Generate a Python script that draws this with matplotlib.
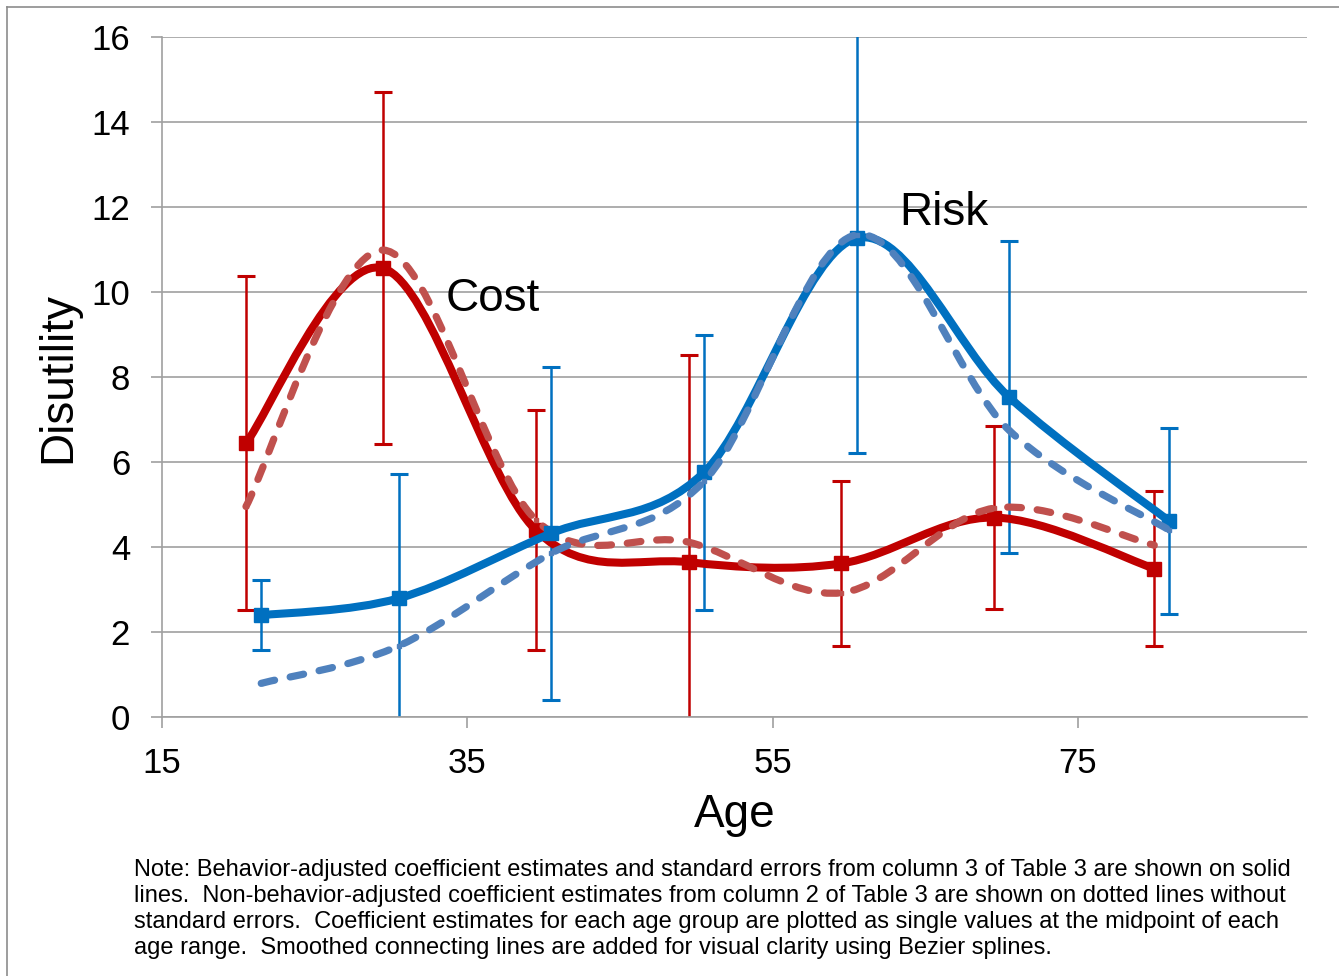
import numpy as np
from matplotlib import pyplot as plt
from matplotlib.path import Path
from matplotlib.patches import PathPatch
from matplotlib.lines import Line2D

# age group midpoints
cost_age = [20.5, 29.5, 39.5, 49.5, 59.5, 69.5, 80]
risk_age = [21.5, 30.5, 40.5, 50.5, 60.5, 70.5, 81]

# behavior-adjusted estimates (solid) and standard errors
cost_adj = [6.45, 10.56, 4.40, 3.65, 3.62, 4.70, 3.50]
cost_se = [3.92, 4.14, 2.82, 4.87, 1.93, 2.15, 1.82]
risk_adj = [2.40, 2.80, 4.33, 5.76, 11.27, 7.53, 4.61]
risk_se = [0.82, 2.92, 3.92, 3.24, 5.06, 3.67, 2.19]

# non-behavior-adjusted estimates (dashed)
cost_raw = [4.96, 10.99, 4.64, 4.12, 2.93, 4.92, 4.05]
risk_raw = [0.80, 1.68, 3.86, 5.55, 11.35, 6.75, 4.40]

x_ticks = [15, 35, 55, 75]
y_ticks = [0, 2, 4, 6, 8, 10, 12, 14, 16]

note = ("Note: Behavior-adjusted coefficient estimates and standard errors from column 3 of Table 3 are shown on solid\n"
        "lines.  Non-behavior-adjusted coefficient estimates from column 2 of Table 3 are shown on dotted lines without\n"
        "standard errors.  Coefficient estimates for each age group are plotted as single values at the midpoint of each\n"
        "age range.  Smoothed connecting lines are added for visual clarity using Bezier splines.")

RED = "#C00000"
RED_D = "#C0504D"
BLUE = "#0070C0"
BLUE_D = "#4F81BD"
GRID = "#A0A0A0"

plt.rcParams['font.family'] = ['Liberation Sans', 'DejaVu Sans']


def bezier_path(xs, ys):
    # cubic bezier through the points, tangents like a Catmull-Rom spline
    pts = np.column_stack([xs, ys]).astype(float)
    n = len(pts)
    verts = [pts[0]]
    codes = [Path.MOVETO]
    for i in range(n - 1):
        p0 = pts[i - 1] if i > 0 else pts[i]
        p1 = pts[i]
        p2 = pts[i + 1]
        p3 = pts[i + 2] if i + 2 < n else pts[i + 1]
        c1 = p1 + (p2 - p0) / 6.0
        c2 = p2 - (p3 - p1) / 6.0
        verts += [c1, c2, p2]
        codes += [Path.CURVE4] * 3
    return Path(verts, codes)


fig = plt.figure(figsize=(13.39, 9.76), dpi=100)
ax = fig.add_axes([0.121, 0.265, 0.855, 0.697])

ax.set_xlim(15, 90)
ax.set_ylim(0, 16)
ax.set_xticks(x_ticks)
ax.set_yticks(y_ticks)
ax.grid(axis='y', color=GRID, lw=1.2)
ax.set_axisbelow(True)
for s in ['top', 'right']:
    ax.spines[s].set_visible(False)
for s in ['left', 'bottom']:
    ax.spines[s].set_color(GRID)
    ax.spines[s].set_linewidth(1.2)
ax.tick_params(axis='both', colors=GRID, labelcolor='black', labelsize=25,
               length=8, width=1.2, direction='out')
ax.tick_params(axis='y', pad=15)
ax.tick_params(axis='x', pad=13)

# error bars
ax.errorbar(cost_age, cost_adj, yerr=cost_se, fmt='none', ecolor=RED,
            elinewidth=1.8, capsize=6.5, capthick=2.2, zorder=2)
ax.errorbar(risk_age, risk_adj, yerr=risk_se, fmt='none', ecolor=BLUE,
            elinewidth=1.8, capsize=6.5, capthick=2.2, zorder=2)

# smoothed lines
for xs, ys, col, ls, lw, ms, z in [
        (cost_age, cost_adj, RED, '-', 5.8, 10.5, 3),
        (cost_age, cost_raw, RED_D, (0, (1.9, 2.2)), 5.2, 3.5, 4),
        (risk_age, risk_adj, BLUE, '-', 5.8, 10.5, 5),
        (risk_age, risk_raw, BLUE_D, (0, (1.9, 2.2)), 5.2, 3.5, 6)]:
    patch = PathPatch(bezier_path(xs, ys), fill=False, edgecolor=col, lw=lw,
                      linestyle=ls, capstyle='round', joinstyle='round', zorder=z)
    ax.add_patch(patch)
    ax.plot(xs, ys, linestyle='none', marker='s', ms=ms, color=col, zorder=z)

ax.text(33.6, 9.55, "Cost", fontsize=33, va='baseline', ha='left')
ax.text(63.3, 11.58, "Risk", fontsize=33, va='baseline', ha='left')

ax.set_xlabel("Age", fontsize=33, labelpad=10)
ax.set_ylabel("Disutility", fontsize=33, labelpad=8)

fig.text(0.100, 0.069, note, fontsize=17, ha='left', va='center', linespacing=1.24)

# outer border of the original chart box
fig.add_artist(Line2D([0.0053, 0.0053], [0, 0.993], transform=fig.transFigure,
                      color="#8C8C8C", lw=1.2))
fig.add_artist(Line2D([0.0053, 1.0], [0.993, 0.993], transform=fig.transFigure,
                      color="#8C8C8C", lw=1.2))

plt.savefig("out.png", dpi=100)
